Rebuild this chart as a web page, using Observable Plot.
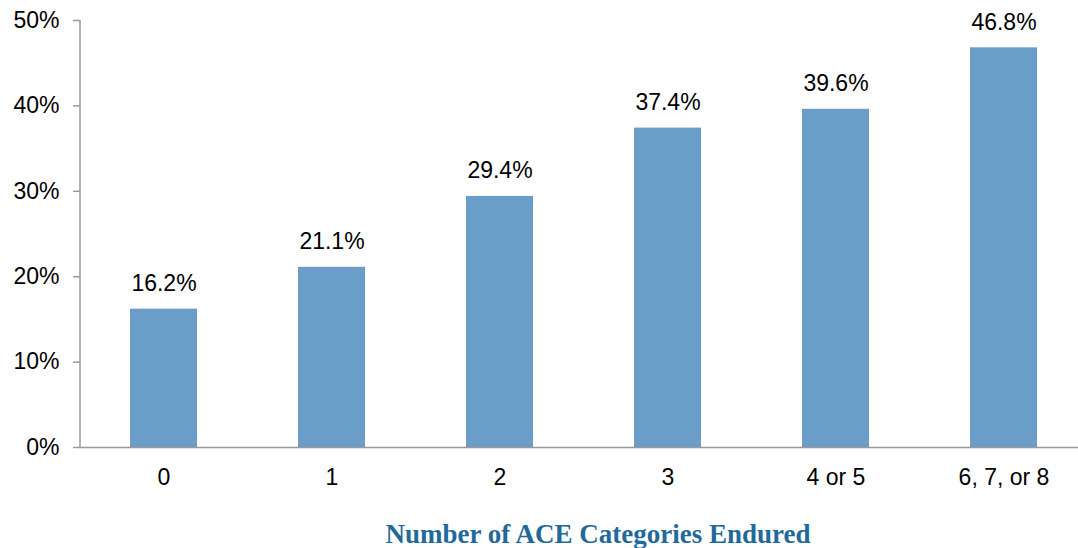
<!DOCTYPE html>
<html>
<head>
<meta charset="utf-8">
<script src="https://cdn.jsdelivr.net/npm/d3@7"></script>
<script src="https://cdn.jsdelivr.net/npm/@observablehq/plot@0.6"></script>
<style>
  html, body { margin: 0; padding: 0; background: #fff; }
  #wrap { position: relative; width: 1078px; height: 548px; }
  #title { position: absolute; left: 0; width: 1196px; top: 518px; text-align: center;
    font-family: "Liberation Serif", "DejaVu Serif", serif; font-weight: bold; font-size: 27px;
    color: #1F6A9A; line-height: 32px; }
</style>
</head>
<body>
<div id="wrap"><div id="chart"></div><div id="title">Number of ACE Categories Endured</div></div>
<script>
const categories = ["0", "1", "2", "3", "4 or 5", "6, 7, or 8"];
const values = [0.162, 0.211, 0.294, 0.374, 0.396, 0.468];
const yTicks = [0, 0.1, 0.2, 0.3, 0.4, 0.5];

const data = categories.map((c, i) => ({cat: c, v: values[i]}));
const fmtPct1 = d3.format(".1%");
const fmtPct0 = d3.format(".0%");
const axisColor = "#999";

const W = 1078, H = 505, mL = 80, mT = 20, mB = 58;

const yAxisLine = (index, scales, values, dims) => {
  const g = d3.create("svg:g");
  g.append("line")
    .attr("x1", dims.marginLeft).attr("x2", dims.marginLeft)
    .attr("y1", scales.y(0)).attr("y2", scales.y(0.5))
    .attr("stroke", axisColor).attr("stroke-width", 1.5);
  return g.node();
};

const chart = Plot.plot({
  width: W,
  height: H,
  marginLeft: mL,
  marginRight: 0,
  marginTop: mT,
  marginBottom: mB,
  style: {fontFamily: "'Liberation Sans', Arial, sans-serif", fontSize: "23px", color: "#000", background: "#fff"},
  x: {domain: categories, range: [mL, mL + 1008], paddingInner: 0.6, paddingOuter: 0.3, label: null},
  y: {domain: [0, 0.5], label: null},
  marks: [
    Plot.barY(data, {x: "cat", y: "v", fill: "#6A9DC8"}),
    Plot.ruleY([0], {stroke: axisColor, strokeWidth: 1.5}),
    yAxisLine,
    Plot.axisY({ticks: yTicks, tickFormat: fmtPct0, tickSize: 7, tickPadding: 14, stroke: axisColor, strokeWidth: 1.5, fill: "#000", fontSize: 23, label: null}),
    Plot.axisX({tickSize: 0, tickPadding: 21, fill: "#000", fontSize: 23, label: null}),
    Plot.text(data, {x: "cat", y: "v", text: d => fmtPct1(d.v), dy: -18, lineAnchor: "bottom", fill: "#000", fontSize: 23})
  ]
});
document.getElementById("chart").appendChild(chart);
</script>
</body>
</html>
